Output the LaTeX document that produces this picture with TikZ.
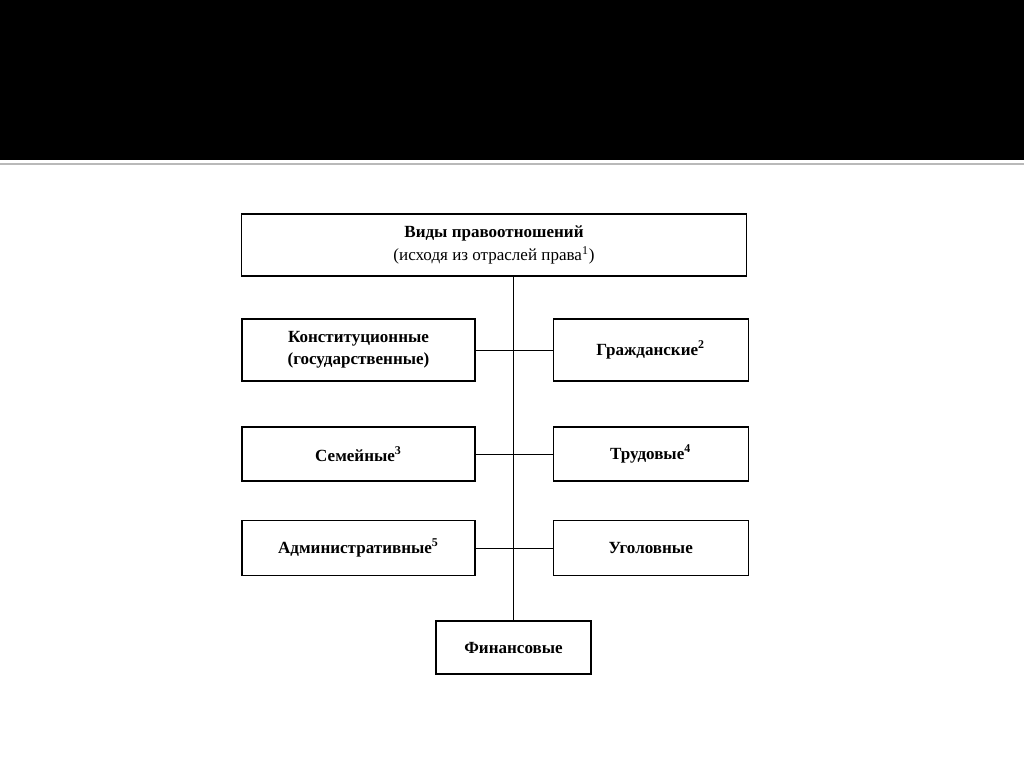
\documentclass[tikz,border=0pt]{standalone}
\usepackage{fontspec}
\setmainfont{Liberation Serif}
\usetikzlibrary{positioning}

\begin{document}
\begin{tikzpicture}[
        x=0.02cm, y=-0.02cm,
        font=\fontsize{9.7}{12.3}\selectfont\bfseries,
        kind/.style={rectangle, draw, line width=0.7pt, inner sep=2pt, align=center, minimum width=#1},
        kind/.default=4.66cm,
        link/.style={line width=0.5pt}
    ]
        % slide frame
        \useasboundingbox (0,0) rectangle (1024,767);
        \fill[black] (0,0) rectangle (1024,160);
        \draw[gray!55, line width=1.2pt] (0,164) -- (1024,164);

        \node[kind=10.1cm, minimum height=1.24cm] (types) at (494,245) {Виды правоотношений\\[1pt]\mdseries(исходя из отраслей права\textsuperscript{1})};

        \node[kind, minimum height=1.24cm] (const) at (358.5,350) {Конституционные\\(государственные)};
        \node[kind=3.9cm, minimum height=1.24cm, right=1.54cm of const] (civil) {Гражданские\textsuperscript{2}};

        \node[kind, minimum height=1.08cm] (family) at (358.5,454) {Семейные\textsuperscript{3}};
        \node[kind=3.9cm, minimum height=1.08cm, right=1.54cm of family] (labour) {Трудовые\textsuperscript{4}};

        \node[kind, minimum height=1.1cm] (admin) at (358.5,548) {Административные\textsuperscript{5}};
        \node[kind=3.9cm, minimum height=1.1cm, right=1.54cm of admin] (crim) {Уголовные};

        \node[kind=3.1cm, minimum height=1.06cm] (fin) at (513.5,647.5) {Финансовые};

        \draw[link] (types.south -| fin.north) -- (fin.north);
        \draw[link] (const) -- (civil);
        \draw[link] (family) -- (labour);
        \draw[link] (admin) -- (crim);
    \end{tikzpicture}
\end{document}
